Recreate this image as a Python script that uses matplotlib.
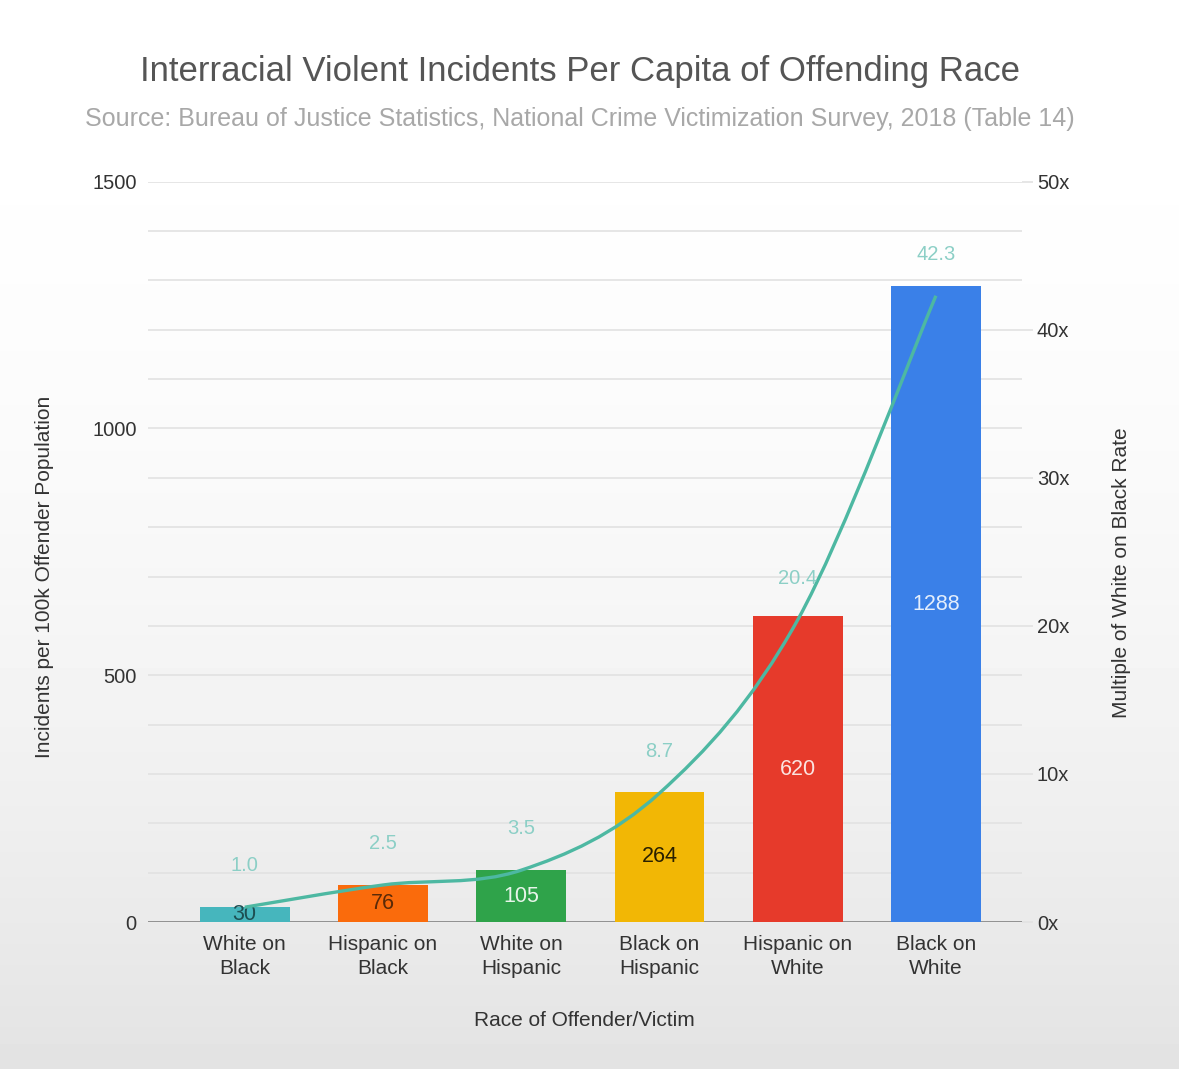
import numpy as np
import matplotlib.pyplot as plt
from matplotlib.path import Path
from matplotlib.patches import PathPatch

categories = ["White on\nBlack", "Hispanic on\nBlack", "White on\nHispanic",
              "Black on\nHispanic", "Hispanic on\nWhite", "Black on\nWhite"]
incidents = [30, 76, 105, 264, 620, 1288]
multiples = [1.0, 2.5, 3.5, 8.7, 20.4, 42.3]

bar_colors = ["#46b6bd", "#fa6b0c", "#2fa34a", "#f2b705", "#e63a2b", "#3a80e8"]
label_colors = ["#1d4f52", "#5a2a08", "#e8f5ea", "#2a2000", "#fbe3e0", "#e3eefc"]
line_color = "#4db8a2"

plt.rcParams['font.family'] = ['Liberation Sans', 'DejaVu Sans']

fig = plt.figure(figsize=(11.79, 10.69), dpi=100)

# light screen-photo gradient in the background
bg = fig.add_axes([0, 0, 1, 1], zorder=-10)
grad = np.linspace(0, 1, 256)[:, None]
bg.imshow(1 - 0.11 * grad ** 2, cmap="gray", vmin=0, vmax=1, aspect="auto",
          extent=[0, 1, 0, 1], origin="upper")
bg.axis("off")

ax = fig.add_axes([0.1255, 0.1375, 0.741, 0.6925])
ax.patch.set_alpha(0)
x = np.arange(len(categories))

ax.set_ylim(0, 1500)
ax.set_xlim(-0.70, 5.62)
ax.set_yticks([0, 500, 1000, 1500])
ax.set_yticks(np.arange(0, 1501, 100), minor=True)
ax.grid(axis="y", which="both", color="#e2e2e2", linewidth=1.2)
ax.set_axisbelow(True)
for s in ax.spines.values():
    s.set_visible(False)
ax.axhline(0, color="#8a8a8a", linewidth=2, zorder=2)
ax.tick_params(axis="y", which="both", length=0, labelsize=14.5, labelcolor="#333333", pad=8)
ax.tick_params(axis="x", length=0, labelsize=15, labelcolor="#333333", pad=9)
ax.set_xticks(x)
ax.set_xticklabels(categories, linespacing=1.35)

bars = ax.bar(x, incidents, width=0.65, color=bar_colors, zorder=3)
for b, v, c in zip(bars, incidents, label_colors):
    ax.text(b.get_x() + b.get_width() / 2, v / 2, str(v), ha="center", va="center",
            fontsize=15.5, color=c, zorder=5)

ax.set_ylabel("Incidents per 100k Offender Population", fontsize=15, color="#333333")
ax.yaxis.set_label_coords(-0.107, 0.466)
ax.set_xlabel("Race of Offender/Victim", fontsize=15, color="#333333", labelpad=24)

ax2 = ax.twinx()
ax2.set_ylim(0, 50)
ax2.set_yticks([0, 10, 20, 30, 40, 50])
ax2.set_yticklabels(["0x", "10x", "20x", "30x", "40x", "50x"])
ax2.tick_params(axis="y", length=8, color="#e2e2e2", width=1.2, labelsize=14.5,
                labelcolor="#333333", pad=3)
for s in ax2.spines.values():
    s.set_visible(False)
ax2.set_ylabel("Multiple of White on Black Rate", fontsize=15, color="#333333")
ax2.yaxis.set_label_coords(1.104, 0.472)

# smooth curve through the multiples (Catmull-Rom as cubic Bezier)
px = np.array(x, dtype=float)
py = np.array(multiples)
verts = [(px[0], py[0])]
codes = [Path.MOVETO]
n = len(px)
for i in range(n - 1):
    p0 = (px[max(i - 1, 0)], py[max(i - 1, 0)])
    p1 = (px[i], py[i])
    p2 = (px[i + 1], py[i + 1])
    p3 = (px[min(i + 2, n - 1)], py[min(i + 2, n - 1)])
    c1 = (p1[0] + (p2[0] - p0[0]) / 6, p1[1] + (p2[1] - p0[1]) / 6)
    c2 = (p2[0] - (p3[0] - p1[0]) / 6, p2[1] - (p3[1] - p1[1]) / 6)
    verts += [c1, c2, p2]
    codes += [Path.CURVE4] * 3
ax2.add_patch(PathPatch(Path(verts, codes), facecolor="none", edgecolor=line_color,
                        linewidth=2.4, zorder=6))

for xi, m in zip(x, multiples):
    ax2.annotate(f"{m:.1f}", (xi, m), xytext=(0, 30), textcoords="offset points",
                 ha="center", va="center", fontsize=14.5, color="#8ccfc6", zorder=7)

fig.text(0.492, 0.933, "Interracial Violent Incidents Per Capita of Offending Race",
         ha="center", va="center", fontsize=25, color="#555555")
fig.text(0.492, 0.889, "Source: Bureau of Justice Statistics, National Crime Victimization Survey, 2018 (Table 14)",
         ha="center", va="center", fontsize=18, color="#a8a8a8")

fig.savefig("out.png", dpi=100)
